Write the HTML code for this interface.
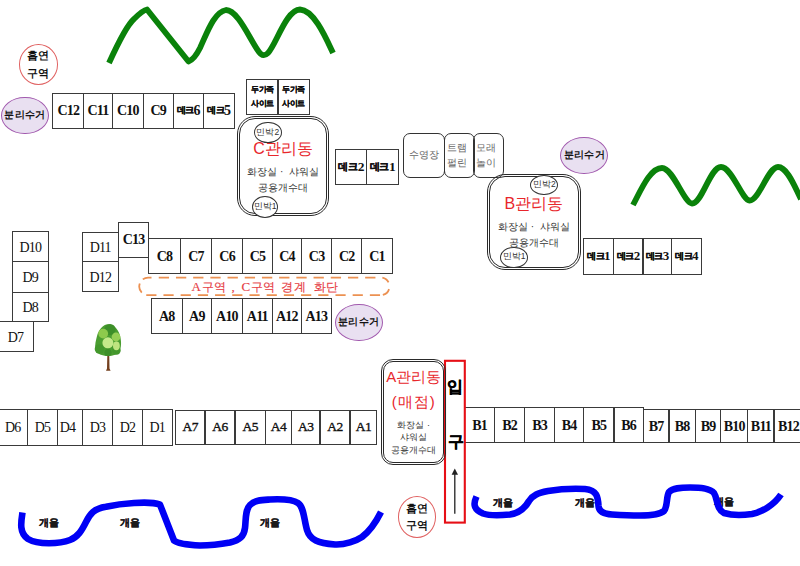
<!DOCTYPE html>
<html><head><meta charset="utf-8">
<style>
html,body{margin:0;padding:0;background:#fff;}
body{width:800px;height:566px;overflow:hidden;position:relative;font-family:"Liberation Serif",serif;color:#111;}
.b{position:absolute;box-sizing:border-box;border:1.3px solid #3a3a3a;display:flex;align-items:center;justify-content:center;text-align:center;white-space:nowrap;}
.s{font-weight:bold;font-size:14px;letter-spacing:-0.8px;}
.sm2{font-size:13.5px;letter-spacing:-0.5px;-webkit-text-stroke:0.35px #111;}
.d{font-size:14px;letter-spacing:-0.8px;}
.k{font-family:"Liberation Sans",sans-serif;font-size:9px;letter-spacing:-0.6px;-webkit-text-stroke:0.35px currentColor;}
.dk{font-size:13.5px;} .dk .k{font-size:10px;letter-spacing:-0.3px;}
.dk2{font-size:13px;} .dk2 .k{font-size:9px;}
.fam{font-family:"Liberation Sans",sans-serif;font-weight:bold;font-size:8px;line-height:13.6px;letter-spacing:-0.3px;-webkit-text-stroke:0.25px #111;}
.rb{position:absolute;box-sizing:border-box;border:1.2px solid #333;display:flex;align-items:center;justify-content:center;text-align:center;font-family:"Liberation Sans",sans-serif;color:#666;font-size:10px;line-height:15.5px;white-space:nowrap;}
.rc,.sm{position:absolute;box-sizing:border-box;border-radius:50%;display:flex;align-items:center;justify-content:center;text-align:center;font-family:"Liberation Sans",sans-serif;font-weight:bold;white-space:nowrap;}
.rc{background:#e9e0f1;border:1.7px solid #a25aae;font-size:9.5px;letter-spacing:0.3px;}
.sm{background:#fff;border:1.5px solid #e06262;font-size:10.5px;line-height:17.3px;}
.bld{position:absolute;box-sizing:border-box;border:1.2px solid #2a2a2a;}
.bi{position:absolute;left:1px;top:1px;right:1px;bottom:1px;border:1.2px solid #2a2a2a;}
.mb{position:absolute;box-sizing:border-box;border:1.2px solid #333;border-radius:50%;background:#fff;display:flex;align-items:center;justify-content:center;font-family:"Liberation Sans",sans-serif;font-size:8.5px;color:#333;white-space:nowrap;}
.tt{position:absolute;text-align:center;font-family:"Liberation Sans",sans-serif;white-space:nowrap;}
.red{color:#e8262b;}
.big{font-size:16px;}
.big2{font-size:15px;}
.g{color:#363636;font-size:10px;}
.s10{font-size:9px;}
.ent{font-weight:bold;font-size:15.5px;color:#000;-webkit-text-stroke:0.4px #000;}
.bd{position:absolute;color:#e63c44;font-family:"Liberation Sans",sans-serif;font-size:11.6px;letter-spacing:0.6px;line-height:18px;white-space:nowrap;-webkit-text-stroke:0.15px #e63c44;}
.bd .l{font-family:"Liberation Serif",serif;font-size:13px;}
.lbl{position:absolute;font-family:"Liberation Sans",sans-serif;font-weight:bold;font-size:10px;color:#1a1a1a;-webkit-text-stroke:0.25px #1a1a1a;}
.ov{position:absolute;left:0;top:0;}
</style></head><body>
<div class="lbl" style="left:39px;top:516px">개울</div>
<div class="lbl" style="left:120px;top:516px">개울</div>
<div class="lbl" style="left:259.5px;top:516px">개울</div>
<div class="lbl" style="left:492.5px;top:495.5px">개울</div>
<div class="lbl" style="left:574.5px;top:495.5px">개울</div>
<div class="lbl" style="left:713.5px;top:495px">개울</div>
<svg class="ov" width="800" height="566" viewBox="0 0 800 566">
<g fill="none" stroke="#0000f5" stroke-width="6.6" stroke-linejoin="round" stroke-linecap="butt">
<path d="M22.5,512.5 C21,522 19,533 28,539 C38,545 60,544 70,540 C78,537 82,530 86,522 C90,514 94,508.5 106,506.8 C114,505 124,503.6 134,503 C144,502.3 154,502.3 160,504.6 L174,540.5 C178,544 190,545 200,545.5 C210,545.5 222,544 230,542.5 C240,540 244,536 245,528 C246,520 245,510 250,505 C255,500 262,500 270,499.5 C280,499 292,499 298,503 C304,507 304,520 307,530 C310,540 318,543 335,544.5 C345,545 356,541 362,537 C370,531 376,522 381,512"/>
<path d="M476.5,496.5 C474,502 472,509 483,513.5 C490,516 500,515.5 510,514.5 C520,513 525,508 529,501 C533,495 538,493 548,491 C560,489 575,488.5 585,489 C597,490 598,497 598.5,506 C599,512 604,514 612,514.5 C620,515 630,515.5 640,515.5 C648,515.5 660,514.5 664,511 C668,506 666,497 669,492 C673,488 680,487.5 690,487.5 C700,487.5 710,488 714,493 C718,499 716,509 724,513 C732,515.5 745,515 752,514 C762,512 774,505 781,494.5"/>
</g>
</svg>
<svg class="ov" width="800" height="566" viewBox="0 0 800 566">
<g fill="none" stroke="#0a820a" stroke-width="5.8" stroke-linejoin="round" stroke-linecap="butt">
<path d="M109,63 C114,52 126,26 134,19 C140,13 144,10 147,9.5 L188.5,61.5 C193,60 196,56 200,48 C207,33 214,12 226,10 C238,10 250,40 259,52 C262,56 265,56 268,53 C276,45 286,10 300,9.5 C314,10 326,38 333,53"/>
<path d="M633,205 C641,190 650,168 662,168 C673,168 684,203 692,203.5 C702,204 710,167 721,167 C732,167 742,200 749.5,200.5 C759,201 768,167 778,167 C788,167 796,190 801,199"/>
</g>
<path fill="none" stroke="#ec9152" stroke-width="1.8" d="M142.80,279.37 A8.8,8.8 0 0 1 148.1,277.60 L151.5,277.60 M158.75,277.60 H169.05 M175.95,277.60 H186.25 M193.15,277.60 H203.45 M210.35,277.60 H220.65 M227.55,277.60 H237.85 M244.75,277.60 H255.05 M261.95,277.60 H272.25 M279.15,277.60 H289.45 M296.35,277.60 H306.65 M313.55,277.60 H323.85 M330.75,277.60 H341.05 M347.95,277.60 H358.25 M365.15,277.60 H375.45 M146.25,295.20 H156.45 M163.45,295.20 H173.65 M180.65,295.20 H190.85 M197.85,295.20 H208.05 M215.05,295.20 H225.25 M232.25,295.20 H242.45 M249.45,295.20 H259.65 M266.65,295.20 H276.85 M283.85,295.20 H294.05 M301.05,295.20 H311.25 M318.25,295.20 H328.45 M335.45,295.20 H345.65 M352.65,295.20 H362.85 M369.85,295.20 H380.05 M139.78,283.54 A8.8,8.8 0 0 0 141.77,292.51 M382.35,277.60 A8.8,8.8 0 0 1 388.54,282.40 M389.07,289.12 A8.8,8.8 0 0 1 382.83,294.94"/>
<g stroke="#222" stroke-width="1.3"><line x1="454.8" y1="473" x2="454.8" y2="513.8"/></g>
<path d="M451.6,474.8 L454.8,468.6 L458,474.8 Z" fill="#222"/>
</svg>
<div class="b s" style="left:52.45px;top:92.65px;width:31.70px;height:36.50px;">C12</div>
<div class="b s" style="left:82.85px;top:92.65px;width:30.30px;height:36.50px;">C11</div>
<div class="b s" style="left:111.85px;top:92.65px;width:32.05px;height:36.50px;">C10</div>
<div class="b s" style="left:142.60px;top:92.65px;width:31.25px;height:36.50px;">C9</div>
<div class="b s" style="left:172.55px;top:92.65px;width:31.35px;height:36.50px;"><span class="k">데크</span>6</div>
<div class="b s" style="left:202.60px;top:92.65px;width:32.30px;height:36.50px;"><span class="k">데크</span>5</div>
<div class="b fam" style="left:246.35px;top:78.60px;width:32.30px;height:36.30px;">두가족<br>사이트</div>
<div class="b fam" style="left:277.35px;top:78.60px;width:32.55px;height:36.30px;">두가족<br>사이트</div>
<div class="b s dk" style="left:334.85px;top:148.60px;width:32.55px;height:36.55px;"><span class="k">데크</span>2</div>
<div class="b s dk" style="left:366.10px;top:148.60px;width:32.55px;height:36.55px;"><span class="k">데크</span>1</div>
<div class="b s dk2" style="left:582.85px;top:237.85px;width:31.40px;height:36.80px;"><span class="k">데크</span>1</div>
<div class="b s dk2" style="left:612.95px;top:237.85px;width:30.70px;height:36.80px;"><span class="k">데크</span>2</div>
<div class="b s dk2" style="left:642.35px;top:237.85px;width:29.80px;height:36.80px;"><span class="k">데크</span>3</div>
<div class="b s dk2" style="left:670.85px;top:237.85px;width:31.10px;height:36.80px;"><span class="k">데크</span>4</div>
<div class="b d" style="left:11.75px;top:231.25px;width:37.10px;height:30.90px;"><span style="position:relative;left:0px;top:1px">D10</span></div>
<div class="b d" style="left:11.75px;top:260.85px;width:37.10px;height:32.30px;"><span style="position:relative;left:0px;top:1px">D9</span></div>
<div class="b d" style="left:11.75px;top:291.85px;width:37.10px;height:30.20px;"><span style="position:relative;left:0px;top:1px">D8</span></div>
<div class="b d" style="left:-2.65px;top:320.75px;width:36.20px;height:31.70px;"><span style="position:relative;left:0px;top:1px">D7</span></div>
<div class="b d" style="left:81.65px;top:231.75px;width:37.20px;height:30.40px;"><span style="position:relative;left:0px;top:1px">D11</span></div>
<div class="b d" style="left:81.65px;top:260.85px;width:37.20px;height:31.50px;"><span style="position:relative;left:0px;top:1px">D12</span></div>
<div class="b s" style="left:117.55px;top:221.85px;width:31.90px;height:36.40px;">C13</div>
<div class="b s" style="left:148.15px;top:238.15px;width:32.80px;height:35.70px;"><span style="position:relative;left:0px;top:1px">C8</span></div>
<div class="b s" style="left:179.65px;top:238.15px;width:32.80px;height:35.70px;"><span style="position:relative;left:0px;top:1px">C7</span></div>
<div class="b s" style="left:211.15px;top:238.15px;width:31.90px;height:35.70px;"><span style="position:relative;left:0px;top:1px">C6</span></div>
<div class="b s" style="left:241.75px;top:238.15px;width:31.50px;height:35.70px;"><span style="position:relative;left:0px;top:1px">C5</span></div>
<div class="b s" style="left:271.95px;top:238.15px;width:30.20px;height:35.70px;"><span style="position:relative;left:0px;top:1px">C4</span></div>
<div class="b s" style="left:300.85px;top:238.15px;width:31.50px;height:35.70px;"><span style="position:relative;left:0px;top:1px">C3</span></div>
<div class="b s" style="left:331.05px;top:238.15px;width:31.20px;height:35.70px;"><span style="position:relative;left:0px;top:1px">C2</span></div>
<div class="b s" style="left:360.95px;top:238.15px;width:32.20px;height:35.70px;"><span style="position:relative;left:0px;top:1px">C1</span></div>
<div class="b s" style="left:150.75px;top:298.15px;width:32.10px;height:35.70px;"><span style="position:relative;left:0px;top:1px">A8</span></div>
<div class="b s" style="left:181.55px;top:298.15px;width:30.60px;height:35.70px;"><span style="position:relative;left:0px;top:1px">A9</span></div>
<div class="b s" style="left:210.85px;top:298.15px;width:32.20px;height:35.70px;"><span style="position:relative;left:0px;top:1px">A10</span></div>
<div class="b s" style="left:241.75px;top:298.15px;width:31.20px;height:35.70px;"><span style="position:relative;left:0px;top:1px">A11</span></div>
<div class="b s" style="left:271.65px;top:298.15px;width:30.50px;height:35.70px;"><span style="position:relative;left:0px;top:1px">A12</span></div>
<div class="b s" style="left:300.85px;top:298.15px;width:31.10px;height:35.70px;"><span style="position:relative;left:0px;top:1px">A13</span></div>
<div class="b d" style="left:-2.65px;top:409.05px;width:30.80px;height:36.60px;"><span style="position:relative;left:0px;top:1px">D6</span></div>
<div class="b d" style="left:26.85px;top:409.05px;width:31.20px;height:36.60px;"><span style="position:relative;left:0px;top:1px">D5</span></div>
<div class="b d" style="left:56.75px;top:409.05px;width:26.50px;height:36.60px;"><span style="position:relative;left:-2.5px;top:1px">D4</span></div>
<div class="b d" style="left:81.95px;top:409.05px;width:31.20px;height:36.60px;"><span style="position:relative;left:0px;top:1px">D3</span></div>
<div class="b d" style="left:111.85px;top:409.05px;width:31.20px;height:36.60px;"><span style="position:relative;left:0px;top:1px">D2</span></div>
<div class="b d" style="left:141.75px;top:409.05px;width:31.00px;height:36.60px;"><span style="position:relative;left:0px;top:1px">D1</span></div>
<div class="b sm2" style="left:174.85px;top:409.55px;width:30.70px;height:35.60px;">A7</div>
<div class="b sm2" style="left:204.25px;top:409.55px;width:31.30px;height:35.60px;">A6</div>
<div class="b sm2" style="left:234.25px;top:409.55px;width:31.80px;height:35.60px;">A5</div>
<div class="b sm2" style="left:264.75px;top:409.55px;width:27.50px;height:35.60px;">A4</div>
<div class="b sm2" style="left:290.95px;top:409.55px;width:29.60px;height:35.60px;">A3</div>
<div class="b sm2" style="left:319.25px;top:409.55px;width:31.50px;height:35.60px;">A2</div>
<div class="b sm2" style="left:349.45px;top:409.55px;width:28.00px;height:35.60px;">A1</div>
<div class="b s" style="left:464.35px;top:406.55px;width:30.70px;height:36.20px;"><span style="position:relative;left:0px;top:1px">B1</span></div>
<div class="b s" style="left:493.75px;top:406.55px;width:31.50px;height:36.20px;"><span style="position:relative;left:0px;top:1px">B2</span></div>
<div class="b s" style="left:523.95px;top:406.55px;width:31.20px;height:36.20px;"><span style="position:relative;left:0px;top:1px">B3</span></div>
<div class="b s" style="left:553.85px;top:406.55px;width:30.60px;height:36.20px;"><span style="position:relative;left:0px;top:1px">B4</span></div>
<div class="b s" style="left:583.15px;top:406.55px;width:31.60px;height:36.20px;"><span style="position:relative;left:0px;top:1px">B5</span></div>
<div class="b s" style="left:613.45px;top:406.55px;width:30.40px;height:36.20px;"><span style="position:relative;left:0px;top:1px">B6</span></div>
<div class="b s" style="left:642.55px;top:409.45px;width:27.10px;height:33.30px;"><span style="position:relative;left:0px;top:1px">B7</span></div>
<div class="b s" style="left:668.35px;top:409.45px;width:27.70px;height:33.30px;"><span style="position:relative;left:0px;top:1px">B8</span></div>
<div class="b s" style="left:694.75px;top:409.45px;width:26.50px;height:33.30px;"><span style="position:relative;left:0px;top:1px">B9</span></div>
<div class="b s" style="left:719.95px;top:409.45px;width:28.50px;height:33.30px;"><span style="position:relative;left:0px;top:1px">B10</span></div>
<div class="b s" style="left:747.15px;top:409.45px;width:27.60px;height:33.30px;"><span style="position:relative;left:0px;top:1px">B11</span></div>
<div class="b s" style="left:773.45px;top:409.45px;width:30.20px;height:33.30px;"><span style="position:relative;left:0px;top:1px">B12</span></div>
<div class="rb" style="left:403.00px;top:132.60px;width:42.20px;height:45.30px;border-radius:7px"><span style="position:relative;left:0px">수영장</span></div>
<div class="rb" style="left:444.00px;top:132.60px;width:30.60px;height:45.30px;border-radius:7px"><span style="position:relative;left:-2.5px">트램<br>펄린</span></div>
<div class="rb" style="left:473.40px;top:132.60px;width:31.10px;height:45.30px;border-radius:7px"><span style="position:relative;left:-2.5px">모래<br>놀이</span></div>
<div class="rc" style="left:1.06px;top:96.70px;width:47.74px;height:37.60px">분리수거</div>
<div class="rc" style="left:560.40px;top:136.90px;width:48.10px;height:37.40px">분리수거</div>
<div class="rc" style="left:334.80px;top:304.00px;width:47.90px;height:37.40px">분리수거</div>
<div class="sm" style="left:18.50px;top:44.00px;width:39.50px;height:41.00px">흡연<br>구역</div>
<div class="sm" style="left:397.70px;top:496.20px;width:38.00px;height:41.40px">흡연<br>구역</div>
<svg class="ov" width="800" height="566"><rect x="445" y="360.8" width="19.8" height="161.8" fill="none" stroke="#e60f16" stroke-width="2.1"/></svg>
<div class="bld" style="left:236.9px;top:116px;width:92.20px;height:100.30px;border-radius:18px"><div class="bi" style="border-radius:16px"></div></div>
<div class="mb" style="left:254px;top:121.9px;width:27.70px;height:21.60px">민박2</div>
<div class="mb" style="left:251.9px;top:195.6px;width:26.30px;height:22.10px">민박1</div>
<div class="tt red big" style="left:236.9px;top:139px;width:92.20000000000002px;">C관리동</div>
<div class="tt g" style="left:236.9px;top:164.5px;width:92.20000000000002px;">화장실 ·&nbsp; 샤워실</div>
<div class="tt g" style="left:236.9px;top:180.5px;width:92.20000000000002px;">공용개수대</div>
<div class="bld" style="left:486.9px;top:173.5px;width:94.10px;height:96.50px;border-radius:18px"><div class="bi" style="border-radius:16px"></div></div>
<div class="mb" style="left:530.3px;top:175px;width:28.10px;height:20.40px">민박2</div>
<div class="mb" style="left:500.1px;top:246.5px;width:27.80px;height:21.70px">민박1</div>
<div class="tt red big" style="left:486.9px;top:194px;width:94.10000000000002px;">B관리동</div>
<div class="tt g" style="left:486.9px;top:220px;width:94.10000000000002px;">화장실 ·&nbsp; 샤워실</div>
<div class="tt g" style="left:486.9px;top:235.5px;width:94.10000000000002px;">공용개수대</div>
<div class="bld" style="left:380.8px;top:359px;width:65.70px;height:106.30px;border-radius:12px"><div class="bi" style="border-radius:10px"></div></div>
<div class="tt red big2" style="left:380.8px;top:368px;width:65.69999999999999px;">A관리동</div>
<div class="tt red big2" style="left:380.8px;top:393px;width:65.69999999999999px;letter-spacing:1px">(매점)</div>
<div class="tt g s10" style="left:380.8px;top:418.5px;width:65.69999999999999px;">화장실 ·</div>
<div class="tt g s10" style="left:380.8px;top:431px;width:65.69999999999999px;">샤워실</div>
<div class="tt g s10" style="left:380.8px;top:443.5px;width:65.69999999999999px;">공용개수대</div>
<div class="tt ent" style="left:444px;top:376.5px;width:22px;">입</div>
<div class="tt ent" style="left:445px;top:431.5px;width:22px;">구</div>
<div class="bd" style="left:191.5px;top:278px"><span class="l">A</span>구역</div>
<div class="bd" style="left:231.5px;top:278px"><span class="l">,</span></div>
<div class="bd" style="left:241.5px;top:278px"><span class="l">C</span>구역</div>
<div class="bd" style="left:281px;top:278px">경계</div>
<div class="bd" style="left:313.5px;top:278px">화단</div>
<svg class="ov" width="800" height="566" viewBox="0 0 800 566">
<path d="M107.4,352 L107,368.5 L106,370.8 L110.6,370.8 L109.5,368.5 L109.2,352 Z" fill="#74401f"/>
<path d="M108,324.2 C113,324 118,329 119.5,334 C121.5,340 121.5,346 120,350 C118,354.5 113,356 108,356 C102,356 97,354 95.5,349 C94.5,345 96,340 97,336 C98.5,330 103,324.4 108,324.2 Z" fill="#4a9d30"/>
<circle cx="110" cy="329.5" r="5.6" fill="#3d8f29"/>
<circle cx="99.5" cy="349" r="4.8" fill="#43972c"/>
<circle cx="116.5" cy="350.5" r="4.2" fill="#43972c"/>
<circle cx="108" cy="352.5" r="3.6" fill="#3d8f29"/>
<circle cx="103.2" cy="333.6" r="4.9" fill="#8dca4c"/>
<circle cx="116" cy="337" r="4.4" fill="#96cf55"/>
<circle cx="107.9" cy="342.8" r="5.5" fill="#c4e98a"/>
<ellipse cx="116.4" cy="345.8" rx="3.4" ry="4.4" fill="#bfe47f"/>
</svg>
</body></html>
